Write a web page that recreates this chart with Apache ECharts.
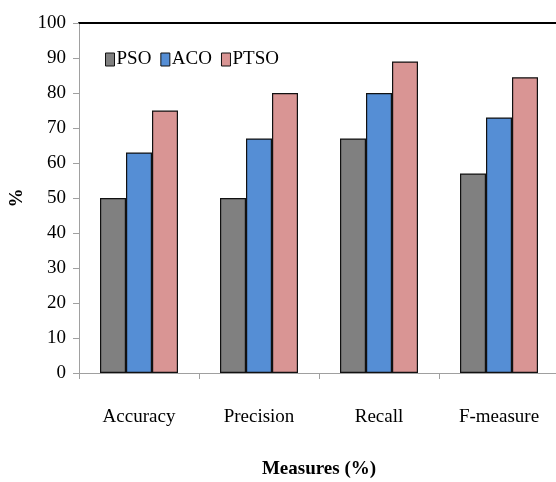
<!DOCTYPE html>
<html><head><meta charset="utf-8">
<script src="https://cdn.jsdelivr.net/npm/echarts@6/dist/echarts.min.js"></script>
<style>html,body{margin:0;padding:0;background:#fff}#c{width:556px;height:482px}</style>
</head><body><div id="c"></div>
<script>
var categories = ['Accuracy', 'Precision', 'Recall', 'F-measure'];
var psoValues = [50, 50, 67, 57];
var acoValues = [63, 67, 80, 73];
var ptsoValues = [75, 80, 89, 84.5];
var yTicks = [0, 10, 20, 30, 40, 50, 60, 70, 80, 90, 100];

var font = '"Liberation Serif", "Times New Roman", serif';
var chart = echarts.init(document.getElementById('c'));
function bar(name, data, color) {
  return {
    name: name, type: 'bar', data: data, barWidth: 26, barGap: '0%',
    itemStyle: { color: color, borderColor: '#111', borderWidth: 1.2 }
  };
}
chart.setOption({
  animation: false,
  backgroundColor: '#fff',
  textStyle: { fontFamily: font },
  legend: {
    left: 100, top: 45,
    itemWidth: 9, itemHeight: 13, itemGap: 9,
    icon: 'rect',
    itemStyle: { borderColor: '#111', borderWidth: 1 },
    textStyle: { fontFamily: font, fontSize: 19, color: '#000', padding: [0, 0, 0, -3] },
    data: ['PSO', 'ACO', 'PTSO']
  },
  grid: { left: 79, top: 23, width: 480, height: 350, containLabel: false, outerBoundsMode: 'none' },
  xAxis: [{
    type: 'category', data: categories,
    axisLine: { lineStyle: { color: '#a0a0a0', width: 1 } },
    axisTick: { show: true, length: 6, lineStyle: { color: '#a0a0a0' } },
    axisLabel: { margin: 35, fontFamily: font, fontSize: 19, color: '#000' },
    name: 'Measures (%)', nameLocation: 'middle', nameGap: 87,
    nameTextStyle: { fontFamily: font, fontSize: 19, fontWeight: 'bold', color: '#000' }
  }, {
    type: 'category', data: categories, position: 'top',
    axisLine: { lineStyle: { color: '#000', width: 2 } },
    axisTick: { show: false }, axisLabel: { show: false }
  }],
  yAxis: {
    type: 'value', min: 0, max: 100, interval: 10,
    axisLine: { show: true, lineStyle: { color: '#a0a0a0', width: 1 } },
    axisTick: { show: true, length: 6, lineStyle: { color: '#a0a0a0' } },
    splitLine: { show: false },
    axisLabel: { margin: 13, fontFamily: font, fontSize: 19, color: '#000',
      formatter: function (v) { return yTicks.indexOf(v) >= 0 ? String(v) : ''; } },
    name: '%', nameLocation: 'middle', nameGap: 50,
    nameTextStyle: { fontFamily: font, fontSize: 19, fontWeight: 'bold', color: '#000' }
  },
  series: [
    bar('PSO', psoValues, '#808080'),
    bar('ACO', acoValues, '#558ED5'),
    bar('PTSO', ptsoValues, '#D99594')
  ]
});
</script></body></html>
